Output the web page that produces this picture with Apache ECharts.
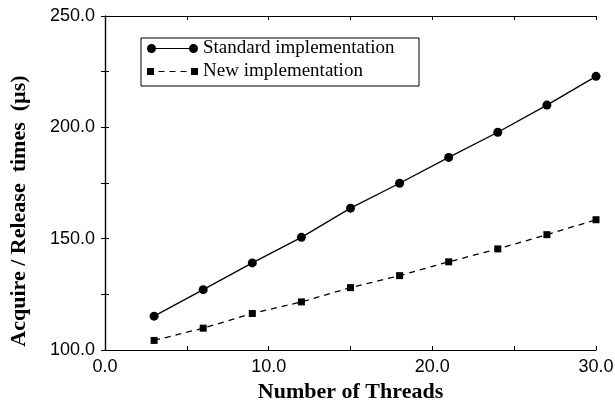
<!DOCTYPE html>
<html>
<head>
<meta charset="utf-8">
<script src="https://cdn.jsdelivr.net/npm/echarts@6/dist/echarts.min.js"></script>
<style>html,body{margin:0;padding:0;background:#fff}#c{width:615px;height:404px}</style>
</head>
<body>
<div id="c"></div>
<script>
var threads = [3, 6, 9, 12, 15, 18, 21, 24, 27, 30];
var standardImpl = [115.2, 127.1, 139.1, 150.6, 163.7, 174.9, 186.5, 197.8, 210.0, 222.9];
var newImpl = [104.3, 109.8, 116.4, 121.6, 128.0, 133.4, 139.6, 145.4, 151.8, 158.5];
var seriesNames = ['Standard implementation', 'New implementation'];
var xTitle = 'Number of Threads';
var yTitle = 'Acquire / Release  times  (\u00b5s)';

function pairs(xs, ys) { return xs.map(function (x, i) { return [x, ys[i]]; }); }

var circleIcon = 'path://M0,4.5A4.5,4.5,0,1,1,9,4.5A4.5,4.5,0,1,1,0,4.5Z M8,3.9L43,3.9L43,5.1L8,5.1Z M42,4.5A4.5,4.5,0,1,1,51,4.5A4.5,4.5,0,1,1,42,4.5Z';
var squareIcon = 'path://M0,1L7,1L7,8L0,8Z M11.5,3.9L17.5,3.9L17.5,5.1L11.5,5.1Z M22.5,3.9L28.5,3.9L28.5,5.1L22.5,5.1Z M33.5,3.9L39.5,3.9L39.5,5.1L33.5,5.1Z M44,1L51,1L51,8L44,8Z M0,0L0.01,0L0.01,9L0,9Z';

var tickLabel = { fontFamily: 'Liberation Sans', fontSize: 18, color: '#000' };
var frameLine = { show: true, lineStyle: { color: '#000', width: 1.2 } };

var chart = echarts.init(document.getElementById('c'), null, { renderer: 'canvas' });
chart.setOption({
  backgroundColor: '#fff',
  animation: false,
  grid: { left: 105, right: 19, top: 16, bottom: 54, containLabel: false, outerBoundsMode: 'none' },
  legend: {
    orient: 'vertical',
    left: 141,
    top: 38,
    borderColor: '#000',
    borderWidth: 1,
    padding: [1, 6, 5, 6],
    itemGap: 4,
    itemWidth: 51,
    itemHeight: 9,
    itemStyle: { borderWidth: 0 },
    textStyle: { fontFamily: 'Liberation Serif', fontSize: 19, color: '#000', lineHeight: 19, width: 210 },
    data: [
      { name: seriesNames[0], icon: circleIcon },
      { name: seriesNames[1], icon: squareIcon }
    ]
  },
  xAxis: [{
    type: 'value', min: 0, max: 30, interval: 10,
    name: xTitle, nameLocation: 'middle', nameGap: 24,
    nameTextStyle: { fontFamily: 'Liberation Serif', fontWeight: 'bold', fontSize: 22, color: '#000' },
    axisLine: frameLine,
    axisTick: { show: true, inside: true, length: 4, lineStyle: { color: '#000' } },
    minorTick: { show: true, splitNumber: 2, length: 4, lineStyle: { color: '#000' } },
    axisLabel: Object.assign({ margin: 8, formatter: function (v) { return v.toFixed(1); } }, tickLabel),
    splitLine: { show: false }
  }, {
    type: 'value', position: 'top', min: 0, max: 30, interval: 10,
    axisLine: frameLine,
    axisTick: { show: true, inside: true, length: 4, lineStyle: { color: '#000' } },
    minorTick: { show: true, splitNumber: 2, length: 4, lineStyle: { color: '#000' } },
    axisLabel: { show: false },
    splitLine: { show: false }
  }],
  yAxis: [{
    type: 'value', min: 100, max: 250, interval: 50,
    name: yTitle, nameLocation: 'middle', nameGap: 75,
    nameTextStyle: { fontFamily: 'Liberation Serif', fontWeight: 'bold', fontSize: 22, color: '#000', padding: [0, 56, 0, 0] },
    axisLine: frameLine,
    axisTick: { show: true, inside: true, length: 4, lineStyle: { color: '#000' } },
    minorTick: { show: true, splitNumber: 2, length: 4, lineStyle: { color: '#000' } },
    axisLabel: Object.assign({ margin: 10, formatter: function (v) { return v.toFixed(1); } }, tickLabel),
    splitLine: { show: false }
  }, {
    type: 'value', position: 'right', min: 100, max: 250, interval: 50,
    axisLine: frameLine,
    axisTick: { show: true, inside: true, length: 4, lineStyle: { color: '#000' } },
    minorTick: { show: true, splitNumber: 2, length: 4, lineStyle: { color: '#000' } },
    axisLabel: { show: false },
    splitLine: { show: false }
  }],
  series: [{
    name: seriesNames[0], type: 'line', xAxisIndex: 0, yAxisIndex: 0,
    data: pairs(threads, standardImpl),
    symbol: 'circle', symbolSize: 9,
    itemStyle: { color: '#000', borderWidth: 0 },
    lineStyle: { color: '#000', width: 1.3, type: 'solid' },
    clip: false
  }, {
    name: seriesNames[1], type: 'line', xAxisIndex: 0, yAxisIndex: 0,
    data: pairs(threads, newImpl),
    symbol: 'rect', symbolSize: 7,
    itemStyle: { color: '#000', borderWidth: 0 },
    lineStyle: { color: '#000', width: 1.3, type: [6, 5] },
    clip: false
  }]
});
</script>
</body>
</html>
